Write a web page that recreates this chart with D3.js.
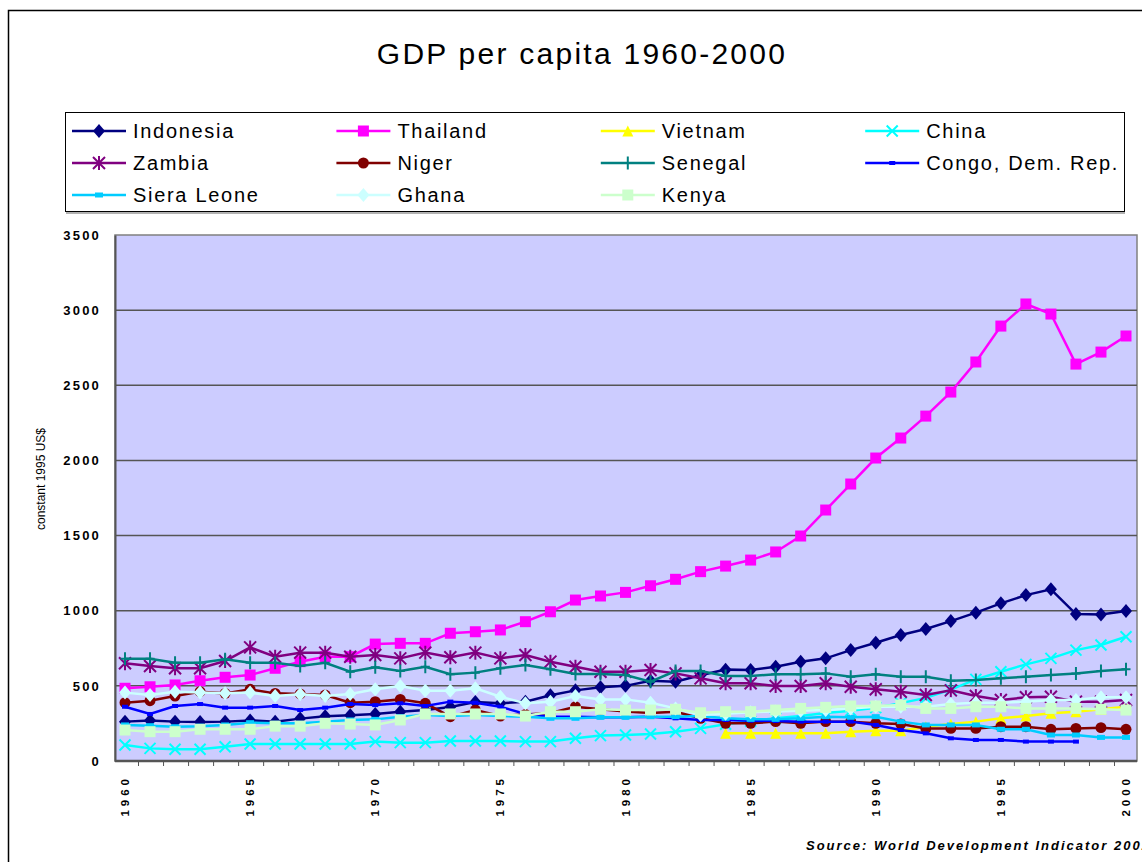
<!DOCTYPE html>
<html>
<head>
<meta charset="utf-8">
<script src="https://cdn.jsdelivr.net/npm/d3@7"></script>
<style>
  body { margin: 0; background: #fff; }
  svg { display: block; font-family: "Liberation Sans", Arial, sans-serif; }
</style>
</head>
<body>
<div id="container"></div>
<script>
const { d3 } = window;

// data (constant 1995 US$)
const years = d3.range(1960, 2001);
const yTicks = [0, 500, 1000, 1500, 2000, 2500, 3000, 3500];
const xLabelYears = [1960, 1965, 1970, 1975, 1980, 1985, 1990, 1995, 2000];

const indonesia = [262, 270, 262, 260, 262, 270, 262, 282, 298, 305, 313, 328, 340, 360, 392, 384, 395, 438, 470, 490, 500, 534, 528, 570, 608, 605, 627, 660, 683, 738, 787, 838, 878, 931, 987, 1049, 1104, 1142, 978, 975, 998];
const thailand = [484, 494, 506, 534, 557, 572, 617, 661, 694, 694, 778, 783, 783, 850, 860, 872, 927, 993, 1071, 1098, 1122, 1166, 1209, 1260, 1297, 1337, 1391, 1497, 1670, 1843, 2016, 2149, 2295, 2455, 2655, 2894, 3041, 2974, 2641, 2721, 2828];
const vietnam = [null, null, null, null, null, null, null, null, null, null, null, null, null, null, null, null, null, null, null, null, null, null, null, null, 184, 184, 184, 184, 184, 195, 202, 202, 228, 246, 262, 284, 299, 317, 328, 344, 361];
const china = [106, 84, 78, 78, 95, 113, 113, 113, 113, 113, 129, 122, 122, 133, 133, 133, 129, 129, 151, 169, 173, 180, 195, 217, 245, 265, 285, 300, 320, 335, 355, 385, 420, 475, 543, 594, 643, 683, 738, 772, 827];
const zambia = [650, 632, 617, 617, 665, 756, 694, 721, 721, 694, 705, 683, 721, 690, 721, 683, 705, 661, 627, 594, 594, 605, 583, 550, 517, 517, 499, 499, 517, 494, 477, 461, 439, 470, 432, 406, 424, 428, 395, 395, 406];
const niger = [388, 401, 432, 461, 450, 477, 450, 446, 439, 388, 395, 410, 384, 295, 339, 299, 310, 320, 361, 344, 330, 320, 328, 284, 251, 251, 262, 251, 262, 262, 251, 246, 217, 217, 217, 228, 228, 211, 217, 222, 211];
const senegal = [681, 681, 654, 654, 677, 654, 654, 632, 654, 594, 623, 599, 627, 577, 588, 617, 639, 610, 579, 579, 572, 528, 599, 599, 566, 566, 577, 577, 583, 561, 577, 561, 561, 534, 539, 550, 561, 572, 583, 599, 610];
const congo = [361, 313, 366, 379, 355, 355, 366, 339, 355, 379, 372, 384, 366, 395, 388, 361, 313, 295, 295, 291, 291, 295, 284, 273, 273, 268, 266, 262, 262, 262, 240, 206, 184, 151, 140, 140, 129, 129, 129, null, null];
const sieraLeone = [240, 235, 228, 232, 240, 255, 251, 251, 262, 273, 277, 295, 306, 299, 306, 299, 295, 284, 284, 291, 291, 295, 295, 300, 284, 277, 277, 284, 295, 291, 295, 262, 240, 240, 240, 211, 211, 173, 173, 157, 157];
const ghana = [455, 439, 461, 455, 450, 455, 432, 444, 432, 446, 477, 499, 468, 468, 484, 428, 384, 395, 432, 410, 410, 388, 350, 306, 315, 325, 330, 335, 340, 350, 361, 361, 361, 379, 388, 388, 395, 406, 406, 424, 424];
const kenya = [206, 195, 195, 211, 211, 211, 232, 232, 251, 246, 240, 273, 313, 313, 313, 313, 299, 328, 328, 344, 339, 339, 344, 321, 328, 328, 339, 350, 357, 366, 366, 372, 350, 350, 361, 361, 350, 350, 350, 344, 339];

const seriesNames = ['Indonesia', 'Thailand', 'Vietnam', 'China', 'Zambia', 'Niger', 'Senegal', 'Congo, Dem. Rep.', 'Siera Leone', 'Ghana', 'Kenya'];
const seriesValues = [indonesia, thailand, vietnam, china, zambia, niger, senegal, congo, sieraLeone, ghana, kenya];
const seriesColors = ['#000080', '#ff00ff', '#ffff00', '#00ffff', '#800080', '#800000', '#008080', '#0000ff', '#00ccff', '#ccffff', '#ccffcc'];
const seriesMarkers = ['diamond', 'square', 'triangle', 'x', 'star', 'circle', 'plus', 'dash', 'wdash', 'diamond', 'square'];

const W = 1142, H = 862;
const plot = { left: 115, right: 1137, top: 235, bottom: 761 };

const svg = d3.select('#container').append('svg')
  .attr('width', W).attr('height', H);

// outer frame (runs off the right and bottom)
svg.append('rect')
  .attr('x', 8.5).attr('y', 10.5)
  .attr('width', W + 20).attr('height', H + 20)
  .attr('fill', 'none').attr('stroke', '#000').attr('stroke-width', 1.5);

svg.append('text')
  .attr('x', 582).attr('y', 64)
  .attr('text-anchor', 'middle')
  .style('font-size', '30px')
  .style('letter-spacing', '2.25px')
  .text('GDP per capita 1960-2000');

const x = d3.scalePoint().domain(years).range([125, 1126]);
const y = d3.scaleLinear().domain([0, 3500]).range([plot.bottom, plot.top]);

svg.append('rect')
  .attr('x', plot.left).attr('y', plot.top)
  .attr('width', plot.right - plot.left).attr('height', plot.bottom - plot.top)
  .attr('fill', '#ccccff').attr('stroke', '#808080').attr('stroke-width', 1.5);

// grid lines
svg.append('g')
  .selectAll('line')
  .data(yTicks.filter(d => d > 0 && d < 3500))
  .join('line')
  .attr('x1', plot.left).attr('x2', plot.right)
  .attr('y1', d => y(d)).attr('y2', d => y(d))
  .attr('stroke', '#555').attr('stroke-width', 1.5);

// y axis
const yAxis = svg.append('g')
  .attr('transform', `translate(${plot.left},0)`)
  .call(d3.axisLeft(y).tickValues(yTicks).tickSize(0).tickPadding(14).tickFormat(d3.format('d')));
yAxis.select('.domain').attr('stroke', '#555').attr('stroke-width', 2);
yAxis.selectAll('text')
  .style('font-size', '13px').style('font-weight', 'bold')
  .style('letter-spacing', '2.2px').attr('fill', '#000')
  .style('font-family', '"Liberation Sans", Arial, sans-serif');

// x axis: minor ticks between categories
const mids = years.slice(1).map(d => (x(d) + x(d - 1)) / 2);
svg.append('g')
  .selectAll('line')
  .data(mids)
  .join('line')
  .attr('x1', d => d + 1).attr('x2', d => d + 1)
  .attr('y1', plot.bottom).attr('y2', plot.bottom + 5)
  .attr('stroke', '#555').attr('stroke-width', 1);
svg.append('line')
  .attr('x1', plot.left).attr('x2', plot.right)
  .attr('y1', plot.bottom).attr('y2', plot.bottom)
  .attr('stroke', '#555').attr('stroke-width', 2.5);

svg.append('g')
  .selectAll('text')
  .data(xLabelYears)
  .join('text')
  .attr('transform', d => `translate(${x(d)},775) rotate(-90)`)
  .attr('text-anchor', 'end')
  .attr('dy', '0.35em')
  .style('font-size', '11.5px').style('font-weight', 'bold')
  .style('letter-spacing', '4px')
  .text(d => d);

svg.append('text')
  .attr('transform', 'translate(45,479) rotate(-90)')
  .attr('text-anchor', 'middle')
  .style('font-size', '12px')
  .text('constant 1995 US$');

// marker shapes
function markerPath(type, s) {
  const h = s / 2;
  switch (type) {
    case 'diamond': return `M0,${-h - 1}L${h},0L0,${h + 1}L${-h},0Z`;
    case 'square': return `M${-h},${-h}H${h}V${h}H${-h}Z`;
    case 'triangle': return `M0,${-h}L${h},${h}L${-h},${h}Z`;
    case 'circle': return d3.symbol(d3.symbolCircle, s * s * 0.78)();
    case 'x': return `M${-h},${-h}L${h},${h}M${-h},${h}L${h},${-h}`;
    case 'star': return `M${-h},${-h}L${h},${h}M${-h},${h}L${h},${-h}M0,${-h - 1}V${h + 1}`;
    case 'plus': return `M0,${-h}V${h}M${-h + 2},0H${h - 2}`;
    case 'dash': return 'M-3,-2H3V2H-3Z';
    case 'wdash': return 'M-4,-2.5H4V2.5H-4Z';
    default: return '';
  }
}
const strokedMarkers = ['x', 'star', 'plus'];
const markerSize = { diamond: 12, square: 11, triangle: 11, circle: 11, x: 11, star: 12, plus: 13, dash: 6, wdash: 8 };

const line = d3.line()
  .defined(d => d.v !== null)
  .x(d => x(d.year))
  .y(d => y(d.v));

seriesNames.forEach((name, i) => {
  const pts = years.map((yr, k) => ({ year: yr, v: seriesValues[i][k] }));
  const g = svg.append('g');
  g.append('path')
    .datum(pts)
    .attr('d', line)
    .attr('fill', 'none')
    .attr('stroke', seriesColors[i])
    .attr('stroke-width', 2.5);
  const m = seriesMarkers[i];
  const stroked = strokedMarkers.includes(m);
  g.selectAll('path.mk')
    .data(pts.filter(d => d.v !== null))
    .join('path')
    .attr('class', 'mk')
    .attr('transform', d => `translate(${x(d.year)},${y(d.v)})`)
    .attr('d', markerPath(m, markerSize[m]))
    .attr('fill', stroked ? 'none' : seriesColors[i])
    .attr('stroke', stroked ? seriesColors[i] : 'none')
    .attr('stroke-width', stroked ? 2 : 0);
});

// legend
const legend = svg.append('g');
legend.append('rect')
  .attr('x', 65.5).attr('y', 112.5).attr('width', 1059).attr('height', 99)
  .attr('fill', '#fff').attr('stroke', '#000').attr('stroke-width', 1);
legend.append('line')
  .attr('x1', 66).attr('x2', 1125).attr('y1', 213).attr('y2', 213)
  .attr('stroke', '#999').attr('stroke-width', 1.5);

seriesNames.forEach((name, i) => {
  const col = i % 4;
  const row = Math.floor(i / 4);
  const lx = 72 + col * 264.4;
  const ly = 131 + row * 32;
  const g = legend.append('g').attr('transform', `translate(${lx},${ly})`);
  g.append('line')
    .attr('x1', 0).attr('x2', 54).attr('y1', 0).attr('y2', 0)
    .attr('stroke', seriesColors[i]).attr('stroke-width', 2.5);
  const m = seriesMarkers[i];
  const stroked = strokedMarkers.includes(m);
  g.append('path')
    .attr('transform', 'translate(27,0)')
    .attr('d', markerPath(m, markerSize[m]))
    .attr('fill', stroked ? 'none' : seriesColors[i])
    .attr('stroke', stroked ? seriesColors[i] : 'none')
    .attr('stroke-width', stroked ? 2 : 0);
  g.append('text')
    .attr('x', 61).attr('y', 7)
    .style('font-size', '20px')
    .style('letter-spacing', '1.7px')
    .text(name);
});

svg.append('text')
  .attr('x', 806).attr('y', 850)
  .style('font-size', '13px').style('font-weight', 'bold').style('font-style', 'italic')
  .style('letter-spacing', '2px')
  .text('Source: World Development Indicator  2002');
</script>
</body>
</html>
